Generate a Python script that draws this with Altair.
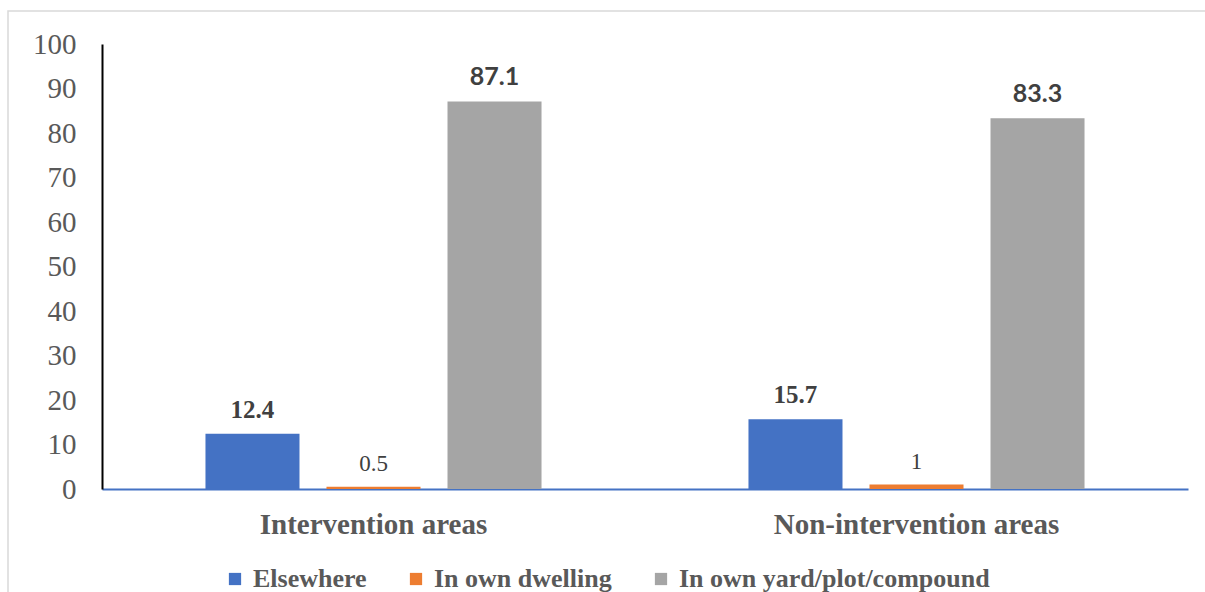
import altair as alt
import pandas as pd

# Where households get their drinking water, by area type (%)
areas = ["Intervention areas", "Non-intervention areas"]
sources = ["Elsewhere", "In own dwelling", "In own yard/plot/compound"]
intervention_vals = [12.4, 0.5, 87.1]
non_intervention_vals = [15.7, 1.0, 83.3]
value_labels_int = ["12.4", "0.5", "87.1"]
value_labels_non = ["15.7", "1", "83.3"]
label_styles = ["serif_bold", "serif", "sans_bold"]
colors = ["#4472C4", "#ED7D31", "#A5A5A5"]
y_ticks = list(range(0, 101, 10))

rows = []
for area, vals, labs in [(areas[0], intervention_vals, value_labels_int),
                         (areas[1], non_intervention_vals, value_labels_non)]:
    for src, v, lab, st in zip(sources, vals, labs, label_styles):
        rows.append({"area": area, "source": src, "value": v, "label": lab, "style": st})
df = pd.DataFrame(rows)

W, H = 1086, 445
SERIF = "Liberation Serif"

x_enc = alt.X("area:N", sort=areas, title=None,
              scale=alt.Scale(paddingInner=0, paddingOuter=0),
              axis=alt.Axis(labelAngle=0, labelFont=SERIF, labelFontSize=29,
                            labelFontWeight="bold", labelColor="#595959",
                            labelPadding=21, labelLimit=0, ticks=False,
                            domainColor="#4472C4", domainWidth=2))
xoff = alt.XOffset("source:N", sort=sources,
                   scale=alt.Scale(paddingInner=0.223, paddingOuter=0.855))
y_enc = alt.Y("value:Q", title=None,
              scale=alt.Scale(domain=[0, 100], nice=False),
              axis=alt.Axis(values=y_ticks, grid=False, ticks=False,
                            labelFont=SERIF, labelFontSize=29, labelColor="#595959",
                            labelPadding=26, domainColor="#000000", domainWidth=2))

bars = alt.Chart(df).mark_bar().encode(
    x=x_enc, xOffset=xoff, y=y_enc,
    color=alt.Color("source:N", sort=sources,
                    scale=alt.Scale(domain=sources, range=colors),
                    legend=alt.Legend(title=None, orient="none", direction="horizontal",
                                      legendX=120, legendY=522,
                                      symbolType="square", symbolSize=150,
                                      symbolStrokeWidth=0,
                                      labelFont=SERIF, labelFontSize=26,
                                      labelFontWeight="bold", labelColor="#595959",
                                      labelLimit=0, labelOffset=5, columnPadding=36)),
)

def value_text(style, font, weight, size):
    return alt.Chart(df).transform_filter(alt.datum.style == style).mark_text(
        font=font, fontWeight=weight, fontSize=size, color="#404040",
        baseline="alphabetic", dy=-16,
    ).encode(x=alt.X("area:N", sort=areas), xOffset=xoff, y="value:Q", text="label:N")

labels_serif_bold = value_text("serif_bold", SERIF, "bold", 25)
labels_serif = value_text("serif", SERIF, "normal", 23)
labels_sans_bold = value_text("sans_bold", "Lato", "bold", 25)

frame = alt.Chart(pd.DataFrame({"k": [0]})).mark_rect(
    fill=None, stroke="#d9d9d9", strokeWidth=1.5
).encode(x=alt.value(-94), x2=alt.value(W + 40), y=alt.value(-33), y2=alt.value(H + 200))

chart = alt.layer(frame, bars, labels_serif_bold, labels_serif, labels_sans_bold).properties(
    width=W, height=H,
    autosize=alt.AutoSizeParams(type="none"),
    padding={"left": 102, "top": 44, "right": 17, "bottom": 103},
    background="white",
).configure_view(stroke=None)

chart.save("out.html", embed_options={"renderer": "svg", "actions": False})
